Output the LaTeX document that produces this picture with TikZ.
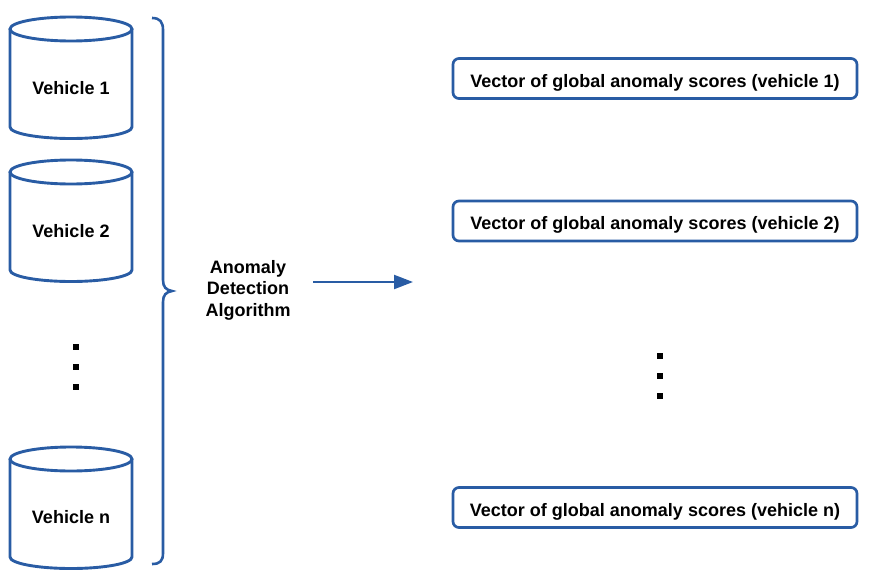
\documentclass[tikz,border=0pt]{standalone}
\usepackage{fontspec}
\setmainfont{Liberation Sans}
\usetikzlibrary{arrows.meta}
\definecolor{cblue}{RGB}{41,92,164}
\newcommand\drawcyl[3]{% x centre, top-ellipse centre y, bottom-ellipse centre y
  \draw[line] (#1,#2) ellipse [x radius=61pt, y radius=12pt];
  \draw[line] ({#1-61},#2) -- ({#1-61},#3) arc[start angle=180, end angle=360, x radius=61pt, y radius=11.5pt] -- ({#1+61},#2);
}
\begin{document}
\begin{tikzpicture}[x=1pt,y=-1pt,
  lbl/.style={font=\bfseries\fontsize{18}{21.5}\selectfont, text=black, align=center},
  line/.style={draw=cblue, line width=2.9pt},
  vec/.style={lbl, draw=cblue, line width=2.7pt, rounded corners=6pt, minimum width=404pt, minimum height=40pt, inner sep=0pt, text height=21pt, text depth=4pt},
  dotm/.style={fill=black, minimum size=5.5pt, inner sep=0pt}]
\useasboundingbox (0,0) rectangle (878,578);
% cylinders
\drawcyl{71}{29}{127}
\drawcyl{71}{172}{270}
\drawcyl{71}{459}{557}
\node[lbl] (c1) at (71,88.5) {Vehicle 1};
\node[lbl] (c2) at (71,231.5) {Vehicle 2};
\node[lbl] (cn) at (71,517.5) {Vehicle n};
% left dots
\node[dotm] (l1) at (76,347) {};
\node[dotm] (l2) at (76,367) {};
\node[dotm] (l3) at (76,387) {};
% brace
\draw[line, line width=2.6pt] (152,18) .. controls (160,18) and (163,22) .. (163,30) -- (163,280)
  .. controls (163,287) and (166,290) .. (172,291)
  .. controls (166,292) and (163,295) .. (163,302) -- (163,553)
  .. controls (163,561) and (160,564) .. (152,564);
% algorithm
\node[lbl] (alg) at (248,290) {Anomaly\\Detection\\Algorithm};
\coordinate (a0) at (313,282);
\coordinate (a1) at (413,282);
\draw[draw=cblue, line width=2.2pt, -{Triangle[length=19pt,width=14pt]}, cblue] (a0) -- (a1);
% output boxes
\node[vec] (v1) at (655,78.5) {Vector of global anomaly scores (vehicle 1)};
\node[vec] (v2) at (655,221) {Vector of global anomaly scores (vehicle 2)};
\node[vec] (vn) at (655,507.5) {Vector of global anomaly scores (vehicle n)};
% right dots
\node[dotm] (r1) at (660,356) {};
\node[dotm] (r2) at (660,376) {};
\node[dotm] (r3) at (660,396) {};
\end{tikzpicture}
\end{document}
